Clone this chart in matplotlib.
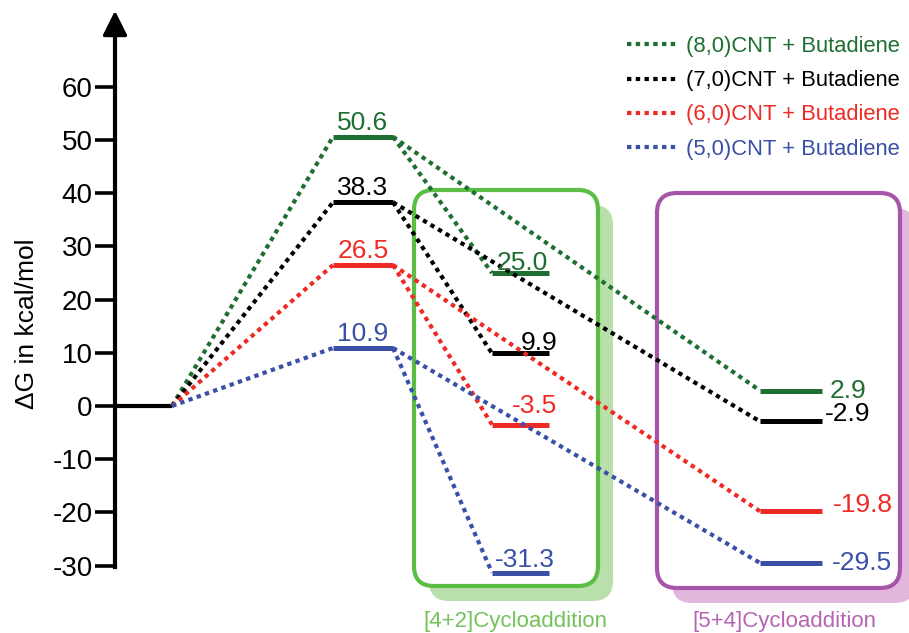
import numpy as np
import matplotlib.pyplot as plt
from matplotlib.patches import FancyBboxPatch
from matplotlib.lines import Line2D

plt.rcParams['font.family'] = ['Liberation Sans', 'DejaVu Sans']

# data
series = ['(8,0)CNT + Butadiene', '(7,0)CNT + Butadiene',
          '(6,0)CNT + Butadiene', '(5,0)CNT + Butadiene']
colors = ['#1f6e32', '#000000', '#ee2a24', '#3a4fa6']
ts = [50.6, 38.3, 26.5, 10.9]
p42 = [25.0, 9.9, -3.5, -31.3]
p54 = [2.9, -2.9, -19.8, -29.5]
yticks = [-30, -20, -10, 0, 10, 20, 30, 40, 50, 60]

fig = plt.figure(figsize=(9.09, 6.33), dpi=100)

# background layer in pixel coords for the boxes
bg = fig.add_axes([0, 0, 1, 1], zorder=0)
bg.set_xlim(0, 909)
bg.set_ylim(633, 0)
bg.axis('off')

def box(x0, y0, x1, y1, edge, shadow):
    sh = FancyBboxPatch((x0 + 15, y0 + 15), x1 - x0, y1 - y0,
                        boxstyle='round,pad=0,rounding_size=20',
                        fc=shadow, ec='none')
    bg.add_patch(sh)
    b = FancyBboxPatch((x0, y0), x1 - x0, y1 - y0,
                       boxstyle='round,pad=0,rounding_size=20',
                       fc='white', ec=edge, lw=3)
    bg.add_patch(b)

box(414, 190, 598, 586, '#5cbd45', '#b9e0ab')
box(657, 193, 900, 588, '#a656a8', '#e3b7dd')
bg.text(515, 621, '[4+2]Cycloaddition', color='#74c25a', fontsize=16,
        ha='center', va='center')
bg.text(784, 621, '[5+4]Cycloaddition', color='#b565b3', fontsize=16,
        ha='center', va='center')

ax = fig.add_axes([0, 0, 1, 1], zorder=1)
ax.patch.set_alpha(0)
ax.set_xlim(0, 909)
ax.set_ylim(-42.67, 76.32)
for s in ['top', 'right', 'bottom']:
    ax.spines[s].set_visible(False)
ax.spines['left'].set_position(('data', 115))
ax.spines['left'].set_bounds(-30.3, 70.5)
ax.spines['left'].set_linewidth(3)
ax.set_xticks([])
ax.set_yticks(yticks)
ax.set_yticklabels([str(t) for t in yticks])
ax.tick_params(axis='y', length=14.5, width=2.6, labelsize=20, pad=1.5)
ax.annotate('', xy=(115, 74.3), xytext=(115, 69),
            arrowprops=dict(arrowstyle='-|>,head_length=1.5,head_width=0.75',
                            lw=2.5, color='k', shrinkA=0, shrinkB=0))
ax.text(27, 15.5, '\u0394G in kcal/mol', rotation=90, fontsize=19,
        ha='center', va='center')

# stage positions (pixels) and label nudges
x_r = (115, 172)
x_ts = (333, 393)
x_42 = (492, 549)
x_54 = (760, 822)
dx42 = [2, 19, 14, 4]
dy42 = [0.5, 0.6, 2.2, 1.0]
dx54 = [8, 3, 11, 10]
dy54 = [0.0, 1.4, 1.1, 0.0]

ax.plot(x_r, [0, 0], color='k', lw=3, solid_capstyle='butt')

dot = (0, (1.05, 1.05))
for i, (c, t, a, b) in enumerate(zip(colors, ts, p42, p54)):
    ax.plot([x_r[1], x_ts[0]], [0, t], color=c, lw=3, ls=dot)
    ax.plot([x_ts[1], x_42[0]], [t, a], color=c, lw=3, ls=dot)
    ax.plot([x_ts[1], x_54[0]], [t, b], color=c, lw=3, ls=dot)
    ax.plot(x_ts, [t, t], color=c, lw=3.6, solid_capstyle='butt')
    ax.plot(x_42, [a, a], color=c, lw=3.6, solid_capstyle='butt')
    ax.plot(x_54, [b, b], color=c, lw=3.6, solid_capstyle='butt')
    ax.text(np.mean(x_ts), t + 1.3, f'{t:.1f}', color=c, fontsize=19,
            ha='center', va='baseline')
    ax.text(np.mean(x_42) + dx42[i], a + dy42[i], f'{a:.1f}', color=c,
            fontsize=19, ha='center', va='baseline')
    ax.text(x_54[1] + dx54[i], b + dy54[i], f'{b:.1f}', color=c,
            fontsize=19, ha='left', va='center')

handles = [Line2D([], [], color=c, lw=3, ls=dot) for c in colors]
ax.legend(handles, series, loc='upper left', bbox_to_anchor=(0.690, 0.943),
          frameon=False, fontsize=15.8, handlelength=2.3, handletextpad=0.4,
          labelspacing=0.6, labelcolor='linecolor', borderaxespad=0,
          borderpad=0)

fig.savefig('out.png', dpi=100)
